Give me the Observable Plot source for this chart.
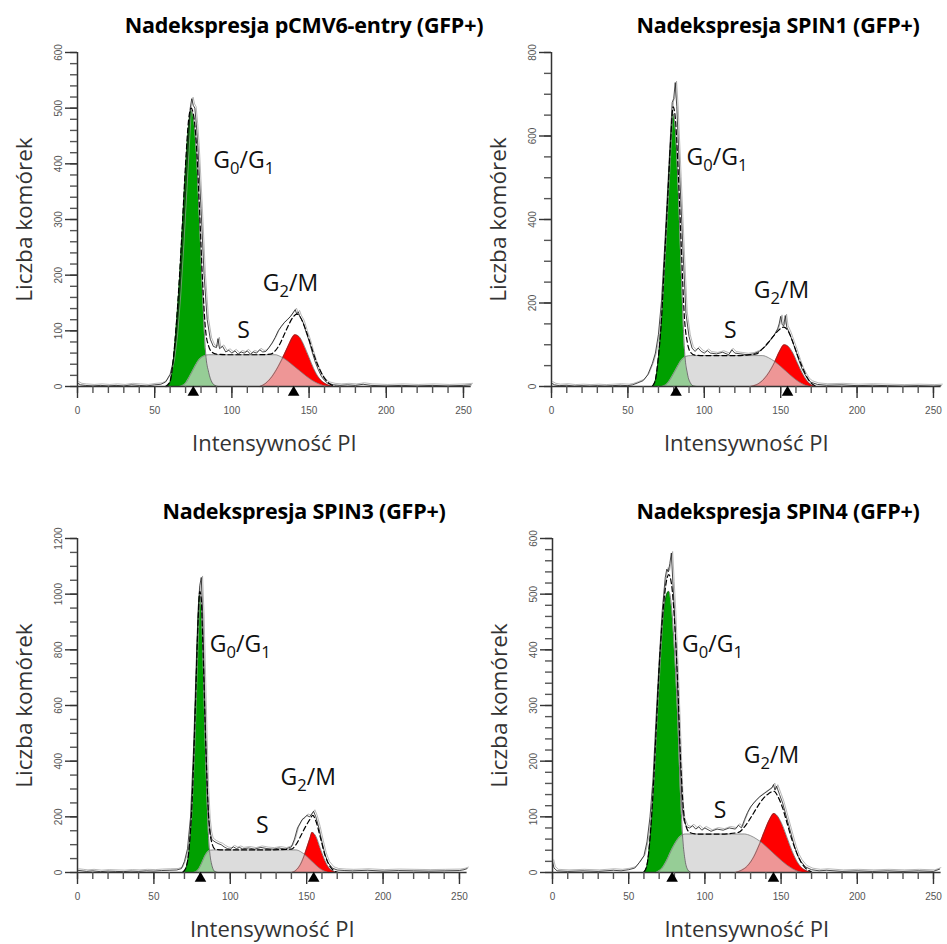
<!DOCTYPE html>
<html>
<head>
<meta charset="utf-8">
<script src="https://cdn.jsdelivr.net/npm/d3@7"></script>
<script src="https://cdn.jsdelivr.net/npm/@observablehq/plot@0.6"></script>
<style>
  html, body { margin: 0; padding: 0; background: #fff; }
  #root { position: relative; width: 947px; height: 944px; background: #fff; overflow: hidden; }
  .cell { position: absolute; }
  .title { position: absolute; width: 520px; text-align: center; font-family: "Open Sans", sans-serif; font-weight: 700; font-size: 21.5px; line-height: 26px; color: #000; white-space: nowrap; letter-spacing: -0.2px; }
</style>
</head>
<body>
<div id="root"></div>
<script>
// ---------------- DATA ----------------
const titles = [
  "Nadekspresja pCMV6-entry (GFP+)",
  "Nadekspresja SPIN1 (GFP+)",
  "Nadekspresja SPIN3 (GFP+)",
  "Nadekspresja SPIN4 (GFP+)"
];
const xLabel = "Intensywność PI";
const yLabel = "Liczba komórek";
const xMajor = [0, 50, 100, 150, 200, 250];
const yMajor1 = [0, 100, 200, 300, 400, 500, 600];
const yMajor2 = [0, 200, 400, 600, 800];
const yMajor3 = [0, 200, 400, 600, 800, 1000, 1200];
const yMajor4 = [0, 100, 200, 300, 400, 500, 600];
const yMax = [600, 800, 1200, 600];
const yMinorStep = [20, 50, 50, 20];

// Panel 1: pCMV6-entry
const p1Raw = [[0,6],[2,3],[5,2],[10,1],[15,2],[20,1],[25,2],[30,1],[35,3],[40,2],[45,1],[50,3],[54,4],[57,8],[60,22],[62,45],[64,90],[66,160],[68,250],[70,350],[72,450],[73,500],[74,517],[75,505],[76,500],[77,470],[78,430],[80,320],[82,200],[84,120],[86,85],[88,72],[90,70],[91,86],[92,68],[94,72],[96,62],[98,65],[100,60],[102,64],[104,58],[106,62],[108,60],[110,64],[112,58],[114,62],[116,60],[118,66],[120,62],[122,63],[124,70],[126,78],[128,88],[130,100],[132,108],[134,115],[136,120],[138,126],[140,134],[141,138],[142,130],[143,134],[144,126],[146,116],[148,98],[150,82],[152,62],[154,44],[156,30],[158,18],[160,11],[162,6],[166,3],[170,2],[175,3],[180,2],[185,4],[190,2],[200,1],[210,2],[220,1],[230,2],[240,1],[250,2],[255,3]];
const p1Fit = [[57,0],[60,10],[62,48],[64,112],[66,195],[68,295],[70,400],[72,480],[73.6,500],[75,490],[77,435],[79,320],[81,190],[83,100],[85,72],[87,62],[90,58],[100,57],[115,57],[125,58],[128,64],[131,76],[134,94],[137,112],[140,126],[142,130],[144,126],[147,108],[150,84],[153,58],[156,36],[159,19],[162,8],[165,2],[168,0]];
const p1G1 = [[58,0],[60,8],[62,45],[64,110],[66,190],[68,290],[70,390],[72,470],[73.6,496],[75,485],[77,420],[79,300],[81,170],[83,60],[85,25],[87,8],[89,2],[91,0]];
const p1S = [[66,0],[70,6],[73,20],[76,36],[79,49],[82,55],[85,57],[128,57],[132,53],[136,46],[140,37],[144,28],[148,19],[152,11],[156,5],[160,1],[163,0]];
const p1G2 = [[118,0],[122,6],[126,18],[130,36],[134,58],[137,76],[140,91],[141,93],[144,88],[147,72],[150,52],[153,32],[156,17],[159,8],[162,3],[166,0]];
const p1Markers = [75, 140];
const p1Labels = [{t: "G0/G1", x: 88, y: 405}, {t: "G2/M", x: 120, y: 185}];
const p1SLabel = [{t: "S", x: 107.5, y: 100}];

// Panel 2: SPIN1
const p2Raw = [[0,8],[2,4],[5,2],[10,3],[15,1],[20,2],[25,1],[30,2],[35,1],[40,2],[45,3],[50,2],[53,4],[56,8],[60,14],[63,28],[66,55],[68,80],[70,125],[72,205],[74,330],[76,470],[78,610],[79,680],[80,690],[81,728],[82,670],[84,500],[86,330],[88,175],[90,120],[92,92],[94,84],[96,92],[98,84],[100,80],[102,86],[104,80],[108,78],[112,82],[116,76],[118,88],[120,80],[124,78],[128,76],[132,78],[136,84],[140,96],[143,110],[146,125],[148,138],[149,150],[150,168],[151,148],[152,145],[153,170],[154,142],[156,126],[158,105],[160,85],[162,62],[164,42],[166,28],[168,16],[170,10],[174,5],[180,3],[190,4],[200,2],[210,3],[220,2],[230,1],[240,2],[250,1],[255,2]];
const p2Fit = [[66,1],[68,16],[70,72],[72,162],[74,305],[76,448],[78,590],[79.6,670],[81,645],[83,510],[85,330],[87,165],[89,104],[91,82],[94,75],[100,74],[120,74],[134,78],[138,90],[142,106],[146,124],[149,136],[152,142],[155,132],[158,106],[161,75],[164,48],[167,24],[170,8],[173,1]];
const p2G1 = [[66,0],[68,15],[70,70],[72,160],[74,300],[76,440],[78,580],[79.6,653],[81,620],[83,470],[85,270],[87,90],[89,30],[91,8],[93,1],[95,0]];
const p2S = [[72,0],[76,8],[79,25],[82,45],[85,63],[88,72],[91,74],[138,74],[142,69],[146,60],[150,48],[154,35],[158,22],[162,11],[166,3],[169,0]];
const p2G2 = [[130,0],[134,4],[138,14],[142,32],[146,58],[149,82],[152.5,100],[155,96],[158,80],[161,56],[164,33],[167,15],[170,4],[173,0]];
const p2Markers = [81.5, 154.5];
const p2Labels = [{t: "G0/G1", x: 88.4, y: 548}, {t: "G2/M", x: 132.4, y: 230}];
const p2SLabel = [{t: "S", x: 117, y: 134}];

// Panel 3: SPIN3
const p3Raw = [[0,8],[3,6],[6,4],[10,6],[15,3],[20,5],[25,4],[30,3],[35,5],[40,4],[45,6],[50,5],[55,7],[60,8],[65,9],[68,14],[70,40],[72,85],[74,200],[76,450],[78,800],[79,950],[80,1030],[81,1060],[82,920],[83,700],[84,480],[85,300],[86,190],[87,140],[88,118],[90,110],[92,104],[94,100],[96,92],[98,86],[100,84],[102,92],[104,86],[106,90],[108,85],[112,88],[116,84],[120,90],[124,86],[128,84],[132,88],[136,84],[140,92],[142,120],[144,160],[147,190],[149,198],[150,205],[152,200],[154.5,220],[156,200],[158,160],[160,110],[162,65],[164,35],[167,15],[170,9],[175,7],[180,6],[190,8],[200,5],[210,7],[220,6],[230,5],[240,6],[250,7],[253,10],[255,14]];
const p3Fit = [[69,2],[71,18],[73,85],[75,255],[77,570],[79,915],[80,1010],[81,985],[82,830],[84,450],[86,185],[88,105],[90,84],[95,81],[120,81],[140,84],[143,100],[146,130],[149,162],[152,190],[154,205],[156,185],[159,125],[162,62],[165,24],[168,6],[171,0]];
const p3G1 = [[69,0],[71,15],[73,80],[75,250],[77,560],[79,900],[80,998],[81,960],[82,800],[84,400],[86,110],[88,25],[90,3],[92,0]];
const p3S = [[76,0],[79,10],[81,30],[83,55],[85,73],[87,80],[89,81],[143,81],[146,75],[149,63],[152,48],[155,32],[158,17],[161,6],[164,0]];
const p3G2 = [[140,0],[143,8],[146,30],[149,70],[152,120],[153.6,144],[156,130],[159,85],[162,42],[165,14],[168,3],[170,0]];
const p3Markers = [80.5, 154.6];
const p3Labels = [{t: "G0/G1", x: 86.6, y: 819}, {t: "G2/M", x: 132.9, y: 341}];
const p3SLabel = [{t: "S", x: 120.9, y: 168}];

// Panel 4: SPIN4
const p4Raw = [[0,20],[1,8],[3,3],[10,2],[20,3],[30,2],[40,4],[45,3],[50,5],[54,8],[57,18],[60,30],[62,55],[64,100],[66,170],[68,280],[70,380],[72,470],[74,530],[75,545],[76,540],[77,555],[78,574],[79,520],[80,470],[82,340],[84,190],[85,120],[86,95],[88,82],[90,80],[92,84],[94,78],[96,82],[98,76],[100,80],[104,74],[108,78],[112,76],[116,80],[120,78],[122,85],[124,80],[126,95],[128,108],[130,118],[133,128],[136,136],[139,142],[142,148],[144,152],[145,158],[146,148],[147,155],[149,140],[151,125],[153,105],[155,85],[157,65],[159,45],[161,30],[163,20],[166,10],[170,5],[175,3],[180,4],[190,2],[200,3],[210,2],[220,3],[230,2],[240,3],[250,2],[254,6]];
const p4Fit = [[60,1],[62,14],[64,62],[66,145],[68,255],[70,368],[72,452],[74,510],[76.3,535],[78,520],[80,455],[82,350],[84,205],[86,110],[88,80],[90,72],[95,69],[110,69],[122,72],[126,82],[130,98],[134,116],[138,132],[142,142],[145.3,146],[148,136],[151,116],[154,88],[157,60],[160,37],[163,19],[166,8],[170,1]];
const p4G1 = [[60,0],[62,12],[64,60],[66,140],[68,250],[70,360],[72,440],[74,490],[76.3,505],[78,480],[80,400],[82,290],[84,140],[85.5,60],[87,22],[89,4],[91,0]];
const p4S = [[68,0],[72,8],[75,22],[78,40],[81,55],[84,65],[87,69],[126,69],[130,66],[134,60],[138,52],[142,42],[146,32],[150,22],[154,13],[158,6],[162,1],[164,0]];
const p4G2 = [[120,0],[124,4],[128,12],[132,28],[136,52],[140,80],[143,98],[145.3,106],[148,100],[151,84],[154,62],[157,40],[160,22],[163,10],[166,4],[170,0]];
const p4Markers = [78.5, 145];
const p4Labels = [{t: "G0/G1", x: 85, y: 410}, {t: "G2/M", x: 125.5, y: 210}];
const p4SLabel = [{t: "S", x: 110, y: 111}];

// ---------------- LAYOUT ----------------
const panels = [
  {title: titles[0], raw: p1Raw, fit: p1Fit, g1: p1G1, s: p1S, g2: p1G2, markers: p1Markers, labels: p1Labels, sLabel: p1SLabel, yMajor: yMajor1, yMax: yMax[0], minor: yMinorStep[0], left: 0, top: 0, ml: 77, mr: 2.3},
  {title: titles[1], raw: p2Raw, fit: p2Fit, g1: p2G1, s: p2S, g2: p2G2, markers: p2Markers, labels: p2Labels, sLabel: p2SLabel, yMajor: yMajor2, yMax: yMax[1], minor: yMinorStep[1], left: 474, top: 0, ml: 77, mr: 6.4},
  {title: titles[2], raw: p3Raw, fit: p3Fit, g1: p3G1, s: p3S, g2: p3G2, markers: p3Markers, labels: p3Labels, sLabel: p3SLabel, yMajor: yMajor3, yMax: yMax[2], minor: yMinorStep[2], left: 0, top: 486, ml: 77, mr: 6.4},
  {title: titles[3], raw: p4Raw, fit: p4Fit, g1: p4G1, s: p4S, g2: p4G2, markers: p4Markers, labels: p4Labels, sLabel: p4SLabel, yMajor: yMajor4, yMax: yMax[3], minor: yMinorStep[3], left: 474, top: 486, ml: 78, mr: 6.4}
];

const X = d => d[0], Y = d => d[1];
const LABEL_FONT = "'Open Sans', 'DejaVu Sans', sans-serif";
const TICK_FONT = "'Liberation Sans', Arial, sans-serif";
const xMinor = d3.range(0, 256, 10);

function richText(el, parts, shift) {
  while (el.firstChild) el.removeChild(el.firstChild);
  let down = false;
  for (const [s, sub] of parts) {
    const ts = document.createElementNS("http://www.w3.org/2000/svg", "tspan");
    ts.textContent = s;
    if (sub) { ts.setAttribute("font-size", "72%"); ts.setAttribute("dy", shift + "px"); down = true; }
    else if (down) { ts.setAttribute("dy", (-shift) + "px"); down = false; }
    el.appendChild(ts);
  }
}

function makePanel(p) {
  const yMinor = d3.range(0, p.yMax + 1, p.minor);
  const svg = Plot.plot({
    width: 473, height: 428,
    marginLeft: p.ml, marginRight: p.mr, marginTop: 22, marginBottom: 72,
    x: {domain: [0, 255], axis: null},
    y: {domain: [0, p.yMax], axis: null},
    style: {fontFamily: TICK_FONT, background: "transparent", overflow: "visible"},
    marks: [
      // S-phase underlay, G0/G1 and G2/M peaks, then translucent S overlay
      Plot.areaY(p.s, {x: X, y: Y, fill: "#cbcbcb", curve: "monotone-x"}),
      Plot.areaY(p.g1, {x: X, y: Y, fill: "#00a000", curve: "monotone-x"}),
      Plot.areaY(p.g2, {x: X, y: Y, fill: "#ff0000", curve: "monotone-x"}),
      Plot.areaY(p.s, {x: X, y: Y, fill: "rgb(229,229,229)", fillOpacity: 0.656, curve: "monotone-x"}),
      Plot.lineY(p.g1, {x: X, y: Y, stroke: "#2a2a2a", strokeWidth: 0.6, curve: "monotone-x"}),
      Plot.lineY(p.s, {x: X, y: Y, stroke: "#777", strokeWidth: 0.7, curve: "monotone-x"}),
      Plot.lineY(p.g2, {x: X, y: Y, stroke: "#444", strokeWidth: 0.6, curve: "monotone-x"}),
      // raw histogram traces
      Plot.lineY(p.raw, {x: X, y: Y, stroke: "#9a9a9a", strokeWidth: 0.7, dx: 1.3, dy: -1.5}),
      Plot.lineY(p.raw, {x: X, y: Y, stroke: "#1a1a1a", strokeWidth: 0.8}),
      // model fit (dashed)
      Plot.lineY(p.fit, {x: X, y: Y, stroke: "#000", strokeWidth: 1.2, strokeDasharray: "5,3", curve: "monotone-x"}),
      // axis lines and ticks
      Plot.ruleX([0], {y1: 0, y2: p.yMax, stroke: "#333", strokeWidth: 1.5}),
      Plot.ruleY([0], {x1: 0, x2: 255, stroke: "#333", strokeWidth: 1.5}),
      Plot.ruleY(yMinor, {y: d => d, x1: 0, x2: 0, insetLeft: -7, stroke: "#555", strokeWidth: 1.4}),
      Plot.ruleY(p.yMajor, {y: d => d, x1: 0, x2: 0, insetLeft: -12, stroke: "#333", strokeWidth: 1.4}),
      Plot.ruleX(xMinor, {x: d => d, y1: 0, y2: 0, insetBottom: -7, stroke: "#555", strokeWidth: 1.4}),
      Plot.ruleX(xMajor, {x: d => d, y1: 0, y2: 0, insetBottom: -12, stroke: "#333", strokeWidth: 1.4}),
      // tick labels and axis titles
      Plot.text(p.yMajor, {y: d => d, text: d => String(d), frameAnchor: "left", textAnchor: "middle", lineAnchor: "middle", dx: -19, rotate: -90, fontSize: 10, fill: "#555", fontFamily: TICK_FONT}),
      Plot.text(xMajor, {x: d => d, text: d => String(d), frameAnchor: "bottom", textAnchor: "middle", lineAnchor: "middle", dy: 24, fontSize: 10, fill: "#555", fontFamily: TICK_FONT}),
      Plot.text([xLabel], {text: d => d, frameAnchor: "bottom", textAnchor: "middle", lineAnchor: "middle", dy: 57, fontSize: 22, fill: "#333", fontFamily: LABEL_FONT}),
      Plot.text([yLabel], {text: d => d, frameAnchor: "left", textAnchor: "middle", lineAnchor: "middle", dx: -53, rotate: -90, fontSize: 22.5, fill: "#333", fontFamily: LABEL_FONT}),
      // peak markers
      Plot.dot(p.markers, {x: d => d, y: 0, symbol: "triangle", r: 4.3, fill: "#000", stroke: "none", dy: 6}),
      // phase labels
      Plot.text(p.labels, {x: "x", y: "y", text: "t", textAnchor: "start", fontSize: 23, fill: "#111", fontFamily: LABEL_FONT}),
      Plot.text(p.sLabel, {x: "x", y: "y", text: "t", textAnchor: "middle", fontSize: 23, fill: "#111", fontFamily: LABEL_FONT})
    ]
  });
  d3.select(svg).selectAll("text").each(function() {
    const t = this.textContent;
    if (t === "G0/G1") richText(this, [["G"], ["0", 1], ["/G"], ["1", 1]], 6);
    else if (t === "G2/M") richText(this, [["G"], ["2", 1], ["/M"]], 6);
  });
  return svg;
}

const root = document.getElementById("root");
for (const p of panels) {
  const title = document.createElement("div");
  title.className = "title";
  title.textContent = p.title;
  title.style.left = (p.left + 304 - 260) + "px";
  title.style.top = (p.top + 12) + "px";
  root.appendChild(title);

  const cell = document.createElement("div");
  cell.className = "cell";
  cell.style.left = p.left + "px";
  cell.style.top = (p.top + 30) + "px";
  cell.appendChild(makePanel(p));
  root.appendChild(cell);
}
</script>
</body>
</html>
